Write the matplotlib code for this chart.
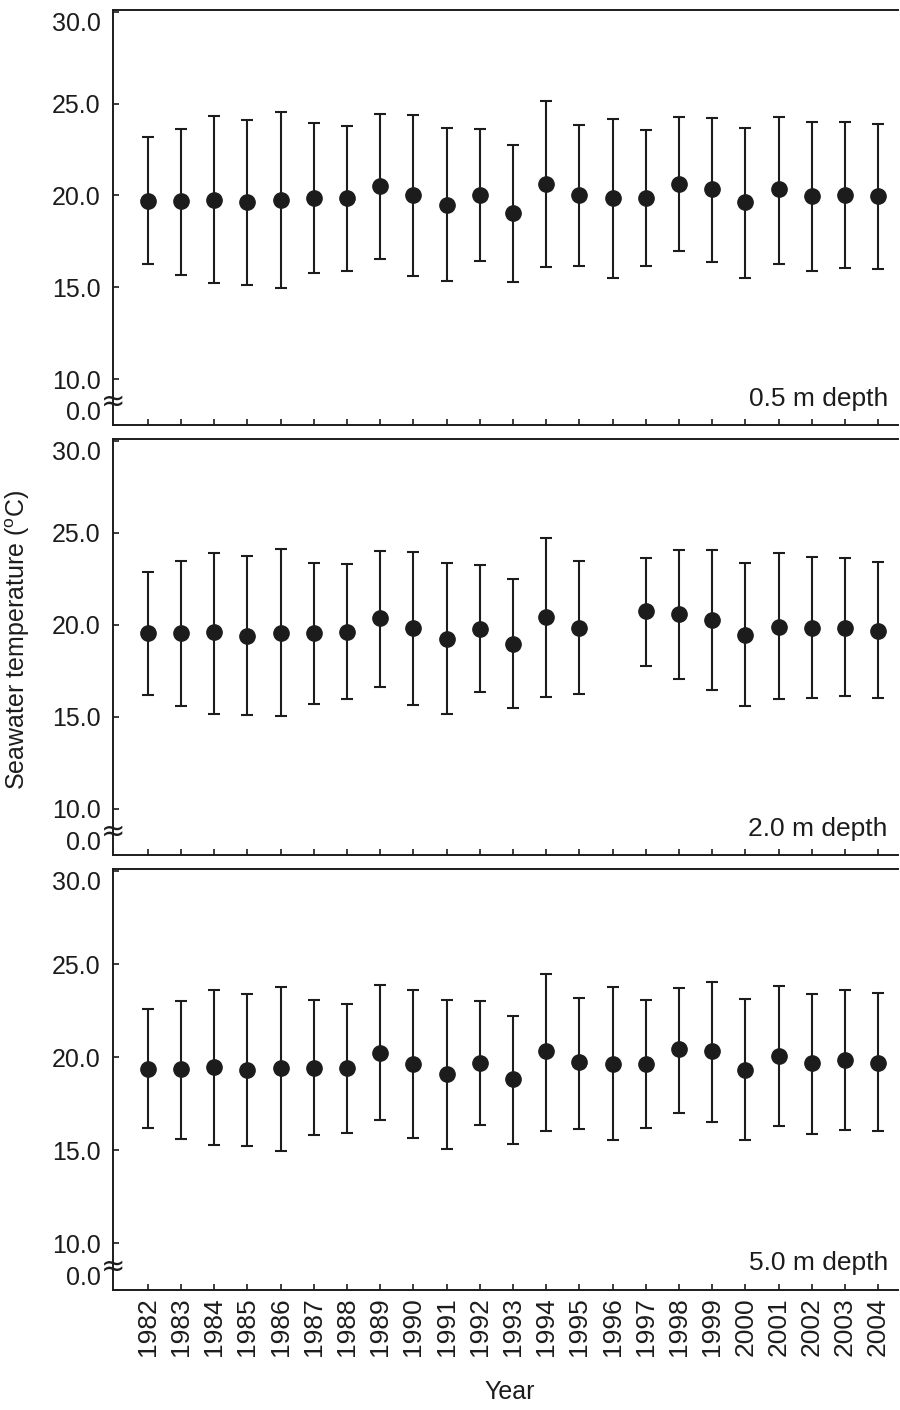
import numpy as np
import matplotlib
matplotlib.use("Agg")
import matplotlib.pyplot as plt

plt.rcParams['font.family'] = ['Liberation Sans', 'DejaVu Sans']
plt.rcParams['mathtext.fontset'] = 'custom'
plt.rcParams['mathtext.rm'] = 'Liberation Sans'

years = list(range(1982, 2005))
depths = ["0.5 m depth", "2.0 m depth", "5.0 m depth"]

# 0.5 m
mean_05 = [19.69, 19.69, 19.78, 19.65, 19.75, 19.84, 19.84, 20.51, 20.02, 19.47, 20.02,
           19.03, 20.60, 20.01, 19.85, 19.85, 20.60, 20.37, 19.62, 20.33, 19.96, 20.05, 19.97]
high_05 = [23.16, 23.64, 24.31, 24.13, 24.53, 23.95, 23.80, 24.44, 24.40, 23.69, 23.60,
           22.77, 25.12, 23.82, 24.19, 23.58, 24.30, 24.23, 23.69, 24.30, 23.99, 24.02, 23.88]
low_05 = [16.29, 15.69, 15.25, 15.11, 14.98, 15.78, 15.89, 16.53, 15.64, 15.36, 16.45,
          15.30, 16.10, 16.16, 15.48, 16.15, 16.96, 16.39, 15.52, 16.26, 15.89, 16.06, 15.98]

# 2.0 m (no data 1996)
mean_20 = [19.55, 19.55, 19.60, 19.42, 19.55, 19.55, 19.60, 20.38, 19.84, 19.24, 19.78,
           18.97, 20.41, 19.84, np.nan, 20.74, 20.60, 20.27, 19.47, 19.91, 19.84, 19.84, 19.67]
high_20 = [22.89, 23.48, 23.93, 23.75, 24.15, 23.36, 23.30, 24.04, 23.95, 23.37, 23.27,
           22.47, 24.71, 23.47, np.nan, 23.65, 24.06, 24.06, 23.36, 23.93, 23.68, 23.61, 23.41]
low_20 = [16.21, 15.59, 15.18, 15.12, 15.05, 15.68, 15.95, 16.62, 15.63, 15.18, 16.33,
          15.47, 16.06, 16.22, np.nan, 17.78, 17.07, 16.44, 15.59, 15.95, 16.03, 16.12, 16.03]

# 5.0 m
mean_50 = [19.38, 19.38, 19.45, 19.31, 19.42, 19.42, 19.42, 20.23, 19.63, 19.10, 19.66,
           18.83, 20.34, 19.72, 19.63, 19.63, 20.45, 20.32, 19.33, 20.04, 19.70, 19.84, 19.70]
high_50 = [22.58, 23.00, 23.60, 23.41, 23.76, 23.07, 22.86, 23.89, 23.62, 23.07, 23.00,
           22.20, 24.46, 23.18, 23.78, 23.07, 23.73, 24.03, 23.11, 23.83, 23.39, 23.59, 23.43]
low_50 = [16.19, 15.60, 15.31, 15.21, 14.98, 15.83, 15.94, 16.61, 15.67, 15.09, 16.38,
          15.35, 16.04, 16.15, 15.53, 16.22, 16.99, 16.52, 15.55, 16.29, 15.90, 16.11, 16.03]

series = [(mean_05, high_05, low_05), (mean_20, high_20, low_20), (mean_50, high_50, low_50)]

ytick_vals = [7.5, 10, 15, 20, 25, 30]
ytick_labels = ["0.0", "10.0", "15.0", "20.0", "25.0", "30.0"]

W, H = 900, 1410
fig = plt.figure(figsize=(W / 100, H / 100), dpi=100)
# panel pixel extents (top, bottom)
panels_px = [(10, 425), (439, 855), (869, 1290)]
left_px, right_px = 113, 898
ink = "#1c1c1c"

for i, (top, bot) in enumerate(panels_px):
    ax = fig.add_axes([left_px / W, 1 - bot / H, (right_px - left_px) / W, (bot - top) / H])
    m, hi, lo = [np.array(a, dtype=float) for a in series[i]]
    yerr = [m - lo, hi - m]
    ax.errorbar(years, m, yerr=yerr, fmt='o', color=ink, ecolor=ink, markersize=11,
                elinewidth=1.5, capsize=4.5, capthick=1.5)
    ax.set_xlim(1980.95, 2004.6)
    ax.set_ylim(7.5, 30.1)
    ax.set_yticks(ytick_vals)
    ax.set_yticklabels(ytick_labels)
    ax.set_xticks(years)
    for s in ["left", "bottom", "top"]:
        ax.spines[s].set_linewidth(1.4)
        ax.spines[s].set_color(ink)
    ax.spines["right"].set_visible(False)
    ax.tick_params(direction="in", length=4, width=1.2, color=ink, labelsize=18,
                   labelcolor=ink)
    ax.tick_params(axis="y", pad=9)
    ax.tick_params(axis="x", labelsize=19, pad=5)
    labs = ax.get_yticklabels()
    labs[0].set_va("bottom")
    labs[-1].set_va("top")
    if i < 2:
        ax.set_xticklabels([])
    else:
        ax.set_xticklabels([str(y) for y in years], rotation=90, va="top")
    ax.text(0.987, 0.063, depths[i], transform=ax.transAxes, ha="right", va="center",
            fontsize=19, color=ink)
    # axis break mark
    ax.text(0.0, 8.75, "\u2248", transform=ax.get_yaxis_transform(), ha="center",
            va="center", fontsize=21, color=ink, family=['DejaVu Sans'])

fig.text(18 / W, 1 - 640 / H, r"Seawater temperature ($^{\rm o}$C)", rotation=90,
         ha="center", va="center", fontsize=18, color=ink)
fig.text(510 / W, 1 - 1392 / H, "Year", ha="center", va="center", fontsize=18, color=ink)

fig.savefig("out.png", dpi=100, facecolor="white")
